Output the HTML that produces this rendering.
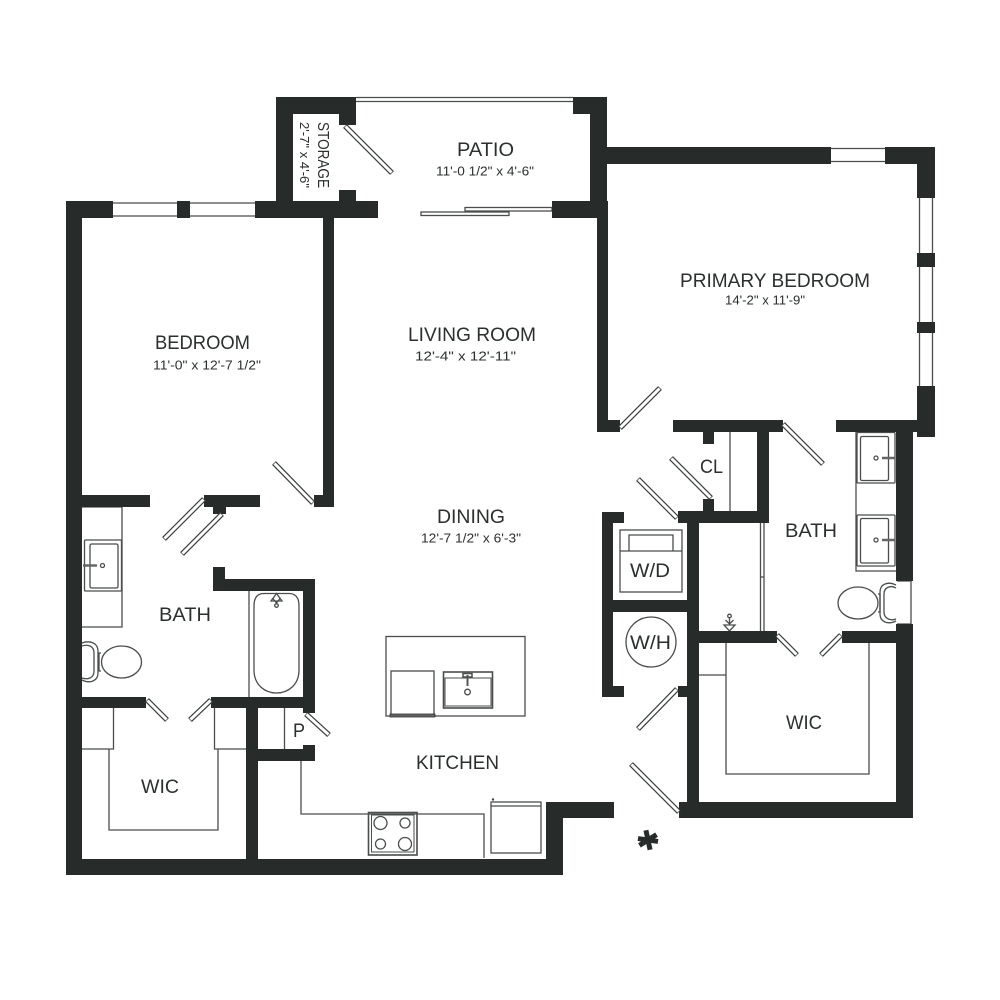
<!DOCTYPE html>
<html><head><meta charset="utf-8"><style>html,body{margin:0;padding:0;background:#fff}svg{display:block}text{font-family:"Liberation Sans",sans-serif;fill:#2b2f2f}</style></head>
<body>
<svg width="1000" height="1000" viewBox="0 0 1000 1000" xmlns="http://www.w3.org/2000/svg">
<rect width="1000" height="1000" fill="#fff"/>
<g fill="none" stroke="#4a4d4d" stroke-width="1.3">
<path d="M356 97.500H573M356 101.500H573"/>
<path d="M113 203H177M113 216H177M190 203H255M190 216H255"/>
<path d="M831 148.500H885M831 161.500H885"/>
<path d="M919.500 198V386M932.500 198V386"/>
<path d="M897 581H911V624H897"/>
<rect x="421" y="212" width="88" height="3.500" fill="#fff"/>
<rect x="465" y="207.500" width="87" height="3.500" fill="#fff"/>
<path d="M730 432V511"/>
<path d="M760.500 523V631M764 523V631M760.500 577H764"/>
<rect x="620" y="530" width="62" height="62"/>
<path d="M620 551H682"/>
<path d="M629 551V535H673V551"/>
<circle cx="651" cy="642" r="25"/>
<path d="M856 432V571H896"/>
<rect x="857" y="432.500" width="38" height="50.500" rx="1"/>
<rect x="860.500" y="436.500" width="28" height="44" rx="1.500"/>
<rect x="857" y="515" width="38" height="51" rx="1"/>
<rect x="860.500" y="518.500" width="28" height="44.500" rx="1.500"/>
<circle cx="876" cy="458" r="2"/>
<circle cx="876" cy="540" r="2"/>
<ellipse cx="858" cy="603" rx="20" ry="16"/>
<path d="M878 594H880V612H878"/>
<path d="M896 585C888 581 880 584 880 592V614C880 622 888 625 896 621"/>
<path d="M896 588C891 585 884 587 884 594V612C884 619 891 621 896 619"/>
<path d="M724 625H735L729.500 631Z"/>
<circle cx="729.500" cy="616" r="1.800"/>
<path d="M729.500 618V625M725.500 620L729.500 624L733.500 620"/>
<path d="M726 643V774H869V643"/>
<path d="M699 675H726"/>
<path d="M82 507H122V627H82"/>
<rect x="84.500" y="540" width="37" height="51" rx="1"/>
<rect x="90" y="544" width="28" height="44" rx="1.500"/>
<circle cx="102.500" cy="565.500" r="2"/>
<ellipse cx="121.500" cy="662" rx="20" ry="16"/>
<path d="M101 653H99V671H101"/>
<path d="M82 643C90 640 98 643 98 651V673C98 681 90 684 82 680"/>
<path d="M82 646C88 644 94 646 94 653V671C94 678 88 680 82 678"/>
<path d="M249 591V697"/>
<path d="M254 606C254 597 258 593.500 264 593.500H289C295 593.500 299 597 299 606V670C299 685 288 693 276.500 693C265 693 254 685 254 670Z"/>
<path d="M271 601L276.500 593.500L282 601Z"/>
<circle cx="276.500" cy="605.500" r="1.800"/>
<path d="M272.500 598L276.500 603L280.500 598"/>
<path d="M113.500 708V749H82M109 749V830H218V749"/>
<path d="M214.500 708V749H246"/>
<path d="M284.500 708V749"/>
<path d="M301 761V814H484V858"/>
<rect x="386" y="636.500" width="139" height="79.500"/>
<rect x="391" y="671" width="43" height="45"/>
<rect x="443.500" y="672" width="49" height="36" stroke-width="1.600"/>
<rect x="445" y="678" width="46" height="28" stroke-width="1"/>
<circle cx="467.500" cy="692" r="2.800"/>
<rect x="463" y="673.500" width="9" height="3.500" stroke-width="1.500"/>
<rect x="368.500" y="812.500" width="48.500" height="42.500" stroke-width="1.600"/>
<rect x="371.500" y="815" width="42.500" height="37" stroke-width="1"/>
<circle cx="380.500" cy="823" r="6.500"/>
<circle cx="405" cy="823" r="5"/>
<circle cx="380.500" cy="844" r="5"/>
<circle cx="405" cy="844" r="6.500"/>
<rect x="491" y="802" width="50" height="51"/>
<path d="M491 806H541"/>
</g>
<rect x="390" y="714" width="45" height="3" fill="#666" stroke="#333" stroke-width=".8"/>
<path d="M882 458H895M882 540H895" stroke="#666" stroke-width="2.500"/>
<path d="M83 565.500H97" stroke="#666" stroke-width="2.500"/>
<path d="M467.500 675V686" stroke="#555" stroke-width="2"/>
<circle cx="493" cy="799.500" r="1.200" fill="#444"/>
<g fill="#272c2b">
<rect x="66" y="201" width="47" height="17"/>
<rect x="177" y="201" width="13" height="17"/>
<rect x="255" y="201" width="123" height="17"/>
<rect x="66" y="201" width="16" height="674"/>
<rect x="66" y="859" width="497" height="16"/>
<rect x="276" y="97" width="80" height="17"/>
<rect x="276" y="97" width="17" height="104"/>
<rect x="339" y="97" width="17" height="28"/>
<rect x="339" y="190" width="17" height="11"/>
<rect x="323" y="218" width="11" height="289"/>
<rect x="314" y="495" width="20" height="12"/>
<rect x="573" y="97" width="34" height="17"/>
<rect x="590" y="97" width="17" height="121"/>
<rect x="552" y="201" width="55" height="17"/>
<rect x="597" y="201" width="11" height="231"/>
<rect x="597" y="420" width="23" height="12"/>
<rect x="607" y="147" width="224" height="17"/>
<rect x="885" y="147" width="50" height="17"/>
<rect x="917" y="147" width="18" height="51"/>
<rect x="917" y="253" width="18" height="14"/>
<rect x="917" y="322" width="18" height="11"/>
<rect x="917" y="386" width="18" height="51"/>
<rect x="836" y="420" width="81" height="12"/>
<rect x="896" y="432" width="17" height="149"/>
<rect x="896" y="624" width="17" height="194"/>
<rect x="673" y="420" width="110" height="12"/>
<rect x="703" y="432" width="11" height="12"/>
<rect x="757" y="432" width="12" height="91"/>
<rect x="678" y="511" width="91" height="12"/>
<rect x="703" y="499" width="11" height="12"/>
<rect x="687" y="523" width="12" height="290"/>
<rect x="602" y="512" width="11" height="185"/>
<rect x="602" y="512" width="22" height="11"/>
<rect x="602" y="686" width="22" height="11"/>
<rect x="613" y="600" width="74" height="12"/>
<rect x="678" y="686" width="9" height="11"/>
<rect x="699" y="631" width="78" height="12"/>
<rect x="842" y="631" width="54" height="12"/>
<rect x="679" y="802" width="234" height="16"/>
<rect x="546" y="802" width="68" height="16"/>
<rect x="546" y="802" width="17" height="73"/>
<rect x="82" y="495" width="68" height="12"/>
<rect x="204" y="495" width="56" height="12"/>
<rect x="213" y="507" width="13" height="7"/>
<rect x="82" y="697" width="64" height="11"/>
<rect x="211" y="697" width="104" height="11"/>
<rect x="213" y="579" width="102" height="12"/>
<rect x="213" y="567" width="12" height="24"/>
<rect x="303" y="579" width="12" height="134"/>
<rect x="246" y="708" width="12" height="151"/>
<rect x="258" y="749" width="57" height="12"/>
<rect x="303" y="745" width="12" height="16"/>
</g>
<g stroke="#3a3e3e" stroke-width="5.400" fill="none">
<path d="M345 126L392 173M620 428L660 388M783 424L823 464M671 458L711 498M638 479L677 518M677 689L638 729M631 764L679 812M777 635L797 655M841 635L821 655M204 499L164 539M222 514L182 554M313 503L274 463M147 700L167 720M211 700L190 720M306 714L329 735"/>
</g>
<g stroke="#fff" stroke-width="3" fill="none">
<path d="M345.500 126.500L391.500 172.500M620.500 427.500L659.500 388.500M783.500 424.500L822.500 463.500M671.500 458.500L710.500 497.500M638.500 479.500L676.500 517.500M676.500 689.500L638.500 728.500M631.500 764.500L678.500 811.500M777.500 635.500L796.500 654.500M840.500 635.500L821.500 654.500M203.500 499.500L164.500 538.500M221.500 514.500L182.500 553.500M312.500 502.500L274.500 463.500M147.500 700.500L166.500 719.500M210.500 700.500L190.500 719.500M306.500 714.500L328.500 734.500"/>
</g>
<g font-size="19">
<text x="457" y="156" textLength="57" lengthAdjust="spacingAndGlyphs">PATIO</text>
<text x="680" y="287" textLength="190" lengthAdjust="spacingAndGlyphs">PRIMARY BEDROOM</text>
<text x="155" y="349" textLength="95" lengthAdjust="spacingAndGlyphs">BEDROOM</text>
<text x="408" y="341" textLength="128" lengthAdjust="spacingAndGlyphs">LIVING ROOM</text>
<text x="437" y="523" textLength="68" lengthAdjust="spacingAndGlyphs">DINING</text>
<text x="159" y="621" textLength="52" lengthAdjust="spacingAndGlyphs">BATH</text>
<text x="785" y="537" textLength="52" lengthAdjust="spacingAndGlyphs">BATH</text>
<text x="141" y="793" textLength="38" lengthAdjust="spacingAndGlyphs">WIC</text>
<text x="786" y="729" textLength="36" lengthAdjust="spacingAndGlyphs">WIC</text>
<text x="416" y="769" textLength="83" lengthAdjust="spacingAndGlyphs">KITCHEN</text>
<text x="700" y="473" textLength="23" lengthAdjust="spacingAndGlyphs">CL</text>
<text x="293" y="737" textLength="12" lengthAdjust="spacingAndGlyphs">P</text>
<text x="630" y="577" textLength="40" lengthAdjust="spacingAndGlyphs">W/D</text>
<text x="630" y="649" textLength="41" lengthAdjust="spacingAndGlyphs">W/H</text>
<text transform="translate(318,122) rotate(90)" font-size="16" textLength="66" lengthAdjust="spacingAndGlyphs">STORAGE</text>
</g>
<g font-size="12.500">
<text x="436" y="175.500" textLength="98" lengthAdjust="spacingAndGlyphs">11'-0 1/2" x 4'-6"</text>
<text x="725" y="304.500" textLength="80" lengthAdjust="spacingAndGlyphs">14'-2" x 11'-9"</text>
<text x="153" y="369.500" textLength="108" lengthAdjust="spacingAndGlyphs">11'-0" x 12'-7 1/2"</text>
<text x="415" y="360.500" textLength="101" lengthAdjust="spacingAndGlyphs">12'-4" x 12'-11"</text>
<text x="421" y="542.500" textLength="100" lengthAdjust="spacingAndGlyphs">12'-7 1/2" x 6'-3"</text>
<text transform="translate(300,122) rotate(90)" textLength="66" lengthAdjust="spacingAndGlyphs">2'-7" x 4'-6"</text>
</g>
<path d="M648 830V850M638.500 836.500L657.500 843.500M638.500 843.500L657.500 836.500" transform="rotate(-12 648 840)" stroke="#272c2b" stroke-width="5" fill="none"/>
</svg>
</body></html>
